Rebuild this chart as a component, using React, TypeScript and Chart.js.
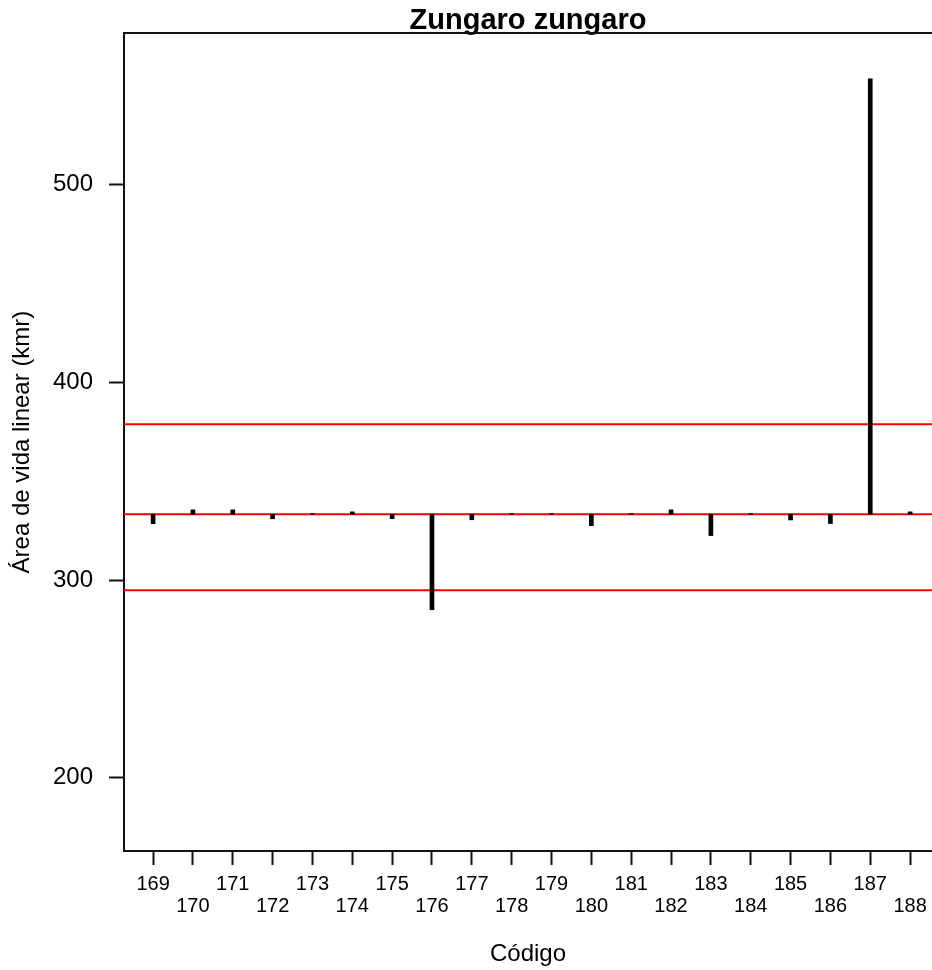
import React, { useEffect, useRef } from 'react';
import { Chart, registerables } from 'chart.js';

Chart.register(...registerables);

const codes = [169, 170, 171, 172, 173, 174, 175, 176, 177, 178, 179, 180, 181, 182, 183, 184, 185, 186, 187, 188];
const homeRange = [328.5, 335.5, 335.5, 331, 333.6, 334.5, 331, 285, 330.5, 333.6, 333.6, 327.5, 333.6, 335.5, 322.5, 333.6, 330.4, 328.6, 553.5, 334.5];
const meanValue = 333.3;
const upperLimit = 378.8;
const lowerLimit = 294.9;
const yTickValues = [200, 300, 400, 500];
const xMin = 168.27;
const xMax = 188.55;
const yMin = 163;
const yMax = 576.6;

const FONT = "'Liberation Sans', Arial, sans-serif";

export default function App() {
  const ref = useRef<HTMLCanvasElement | null>(null);

  useEffect(() => {
    if (!ref.current) return;
    const hLine = (y: number) => [
      { x: xMin, y },
      { x: xMax, y },
    ];
    const lineDs = (y: number) => ({
      type: 'line' as const,
      data: hLine(y),
      borderColor: 'rgb(255,0,0)',
      borderWidth: 2,
      pointRadius: 0,
      fill: false,
      order: 2,
    });

    const topBorder = {
      id: 'topBorder',
      afterDraw(chart: any) {
        const { ctx, chartArea } = chart;
        ctx.save();
        ctx.strokeStyle = '#111';
        ctx.lineWidth = 2;
        ctx.beginPath();
        ctx.moveTo(chartArea.left - 1, chartArea.top);
        ctx.lineTo(chartArea.right, chartArea.top);
        ctx.stroke();
        ctx.restore();
      },
    };

    const chart = new Chart(ref.current, {
      type: 'bar',
      data: {
        datasets: [
          {
            type: 'bar',
            data: codes.map((c, i) => ({ x: c, y: homeRange[i] })),
            base: meanValue,
            backgroundColor: '#000',
            barThickness: 4,
            order: 1,
          } as any,
          lineDs(upperLimit),
          lineDs(meanValue),
          lineDs(lowerLimit),
        ],
      },
      options: {
        animation: false,
        responsive: true,
        maintainAspectRatio: false,
        layout: { padding: 0 },
        plugins: {
          legend: { display: false },
          tooltip: { enabled: false },
          title: {
            display: true,
            text: 'Zungaro zungaro',
            fullSize: false,
            color: '#000',
            font: { family: FONT, size: 29, weight: 'bold', lineHeight: 0.83 },
            padding: { top: 9, bottom: 0 },
          },
        },
        scales: {
          x: {
            type: 'linear',
            offset: false,
            min: xMin,
            max: xMax,
            afterBuildTicks: (s: any) => {
              s.ticks = codes.map((v) => ({ value: v }));
            },
            afterFit: (s: any) => {
              s.height = 119;
              s.paddingLeft = 0;
              s.paddingRight = 0;
            },
            ticks: {
              color: '#000',
              padding: 8,
              font: { family: FONT, size: 20, lineHeight: 1.1 },
              maxRotation: 0,
              autoSkip: false,
              callback: (v: any) => {
                const idx = codes.indexOf(Number(v));
                return idx % 2 === 0 ? [String(v)] : ['', String(v)];
              },
            },
            grid: {
              display: true,
              offset: false,
              drawOnChartArea: false,
              drawTicks: true,
              tickLength: 14,
              tickColor: '#111',
              tickWidth: 2,
            },
            border: { display: true, color: '#111', width: 2 },
            title: {
              display: true,
              text: 'Código',
              color: '#000',
              font: { family: FONT, size: 24, lineHeight: 1.2 },
              padding: { top: 0, bottom: 1 },
            },
          },
          y: {
            type: 'linear',
            min: yMin,
            max: yMax,
            afterBuildTicks: (s: any) => {
              s.ticks = yTickValues.map((v) => ({ value: v }));
            },
            afterFit: (s: any) => {
              s.width = 124;
            },
            ticks: {
              color: '#000',
              padding: 16,
              font: { family: FONT, size: 24 },
            },
            grid: {
              display: true,
              drawOnChartArea: false,
              drawTicks: true,
              tickLength: 15,
              tickColor: '#111',
              tickWidth: 2,
            },
            border: { display: true, color: '#111', width: 2 },
            title: {
              display: true,
              text: 'Área de vida linear (kmr)',
              color: '#000',
              font: { family: FONT, size: 24, lineHeight: 1.2 },
              padding: { top: 8, bottom: 0 },
            },
          },
        },
      },
      plugins: [topBorder],
    });
    return () => chart.destroy();
  }, []);

  return (
    <div style={{ position: 'absolute', left: 0, top: 0, width: 932, height: 970, background: '#fff' }}>
      <canvas ref={ref} />
    </div>
  );
}
